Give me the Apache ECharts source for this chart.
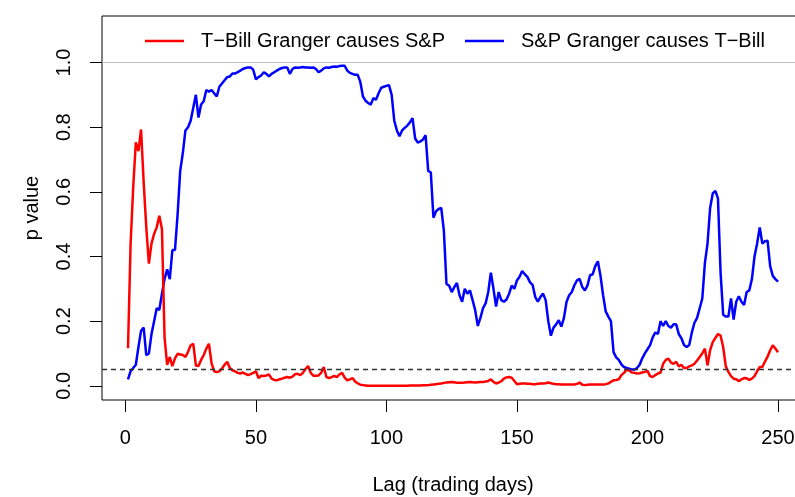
<!DOCTYPE html>
<html>
<head>
<meta charset="utf-8">
<script src="https://cdn.jsdelivr.net/npm/echarts@6/dist/echarts.min.js"></script>
<style>
  html, body { margin: 0; padding: 0; background: #fff; }
  #chart { width: 795px; height: 497px; }
</style>
</head>
<body>
<div id="chart"></div>
<script>
// p values, lag 1..250
var tbillCausesSP = [
  0.116, 0.44, 0.615, 0.753, 0.726, 0.793, 0.63, 0.49, 0.378, 0.44,
  0.47, 0.49, 0.526, 0.485, 0.15, 0.065, 0.089, 0.061, 0.085, 0.099,
  0.097, 0.095, 0.089, 0.105, 0.125, 0.13, 0.063, 0.061, 0.08, 0.095,
  0.115, 0.13, 0.07, 0.045, 0.042, 0.045, 0.053, 0.065, 0.074, 0.055,
  0.048, 0.045, 0.04, 0.038, 0.041, 0.037, 0.033, 0.036, 0.04, 0.045,
  0.024, 0.031, 0.03, 0.032, 0.035, 0.022, 0.018, 0.017, 0.02, 0.022,
  0.025, 0.027, 0.025, 0.028, 0.036, 0.037, 0.033, 0.04, 0.052, 0.061,
  0.04, 0.031, 0.031, 0.032, 0.04, 0.058, 0.027, 0.024, 0.027, 0.031,
  0.027, 0.035, 0.04, 0.025, 0.017, 0.02, 0.024, 0.013, 0.008, 0.003,
  0.002, 0.001, 0.0, 0.0, 0.0, 0.0, 0.0, 0.0, 0.0, 0.0,
  0.0, 0.0, 0.0, 0.0, 0.0, 0.0, 0.0, 0.0, 0.0005, 0.001,
  0.001, 0.001, 0.001, 0.0015, 0.002, 0.002, 0.003, 0.004, 0.005, 0.006,
  0.007, 0.009, 0.01, 0.011, 0.012, 0.011, 0.009, 0.009, 0.009, 0.01,
  0.011, 0.012, 0.011, 0.01, 0.011, 0.012, 0.012, 0.013, 0.015, 0.02,
  0.012, 0.007, 0.01, 0.014, 0.022, 0.026, 0.027, 0.025, 0.015, 0.005,
  0.006, 0.007, 0.007, 0.006, 0.006, 0.005, 0.005, 0.006, 0.007, 0.007,
  0.008, 0.01, 0.008, 0.006, 0.005, 0.005, 0.004, 0.004, 0.004, 0.004,
  0.004, 0.004, 0.006, 0.01, 0.003, 0.002, 0.003, 0.004, 0.004, 0.004,
  0.004, 0.004, 0.004, 0.005, 0.007, 0.012, 0.017, 0.018, 0.02, 0.033,
  0.04, 0.05, 0.047, 0.041, 0.04, 0.038, 0.039, 0.041, 0.043, 0.046,
  0.03, 0.027, 0.033, 0.038, 0.041, 0.068, 0.08, 0.084, 0.072, 0.068,
  0.074, 0.06, 0.065, 0.055, 0.055, 0.06, 0.063, 0.068, 0.078, 0.089,
  0.1, 0.115, 0.063, 0.11, 0.135, 0.148, 0.16, 0.155, 0.12, 0.06,
  0.043, 0.03, 0.022, 0.02, 0.014, 0.02, 0.024, 0.023, 0.018, 0.022,
  0.03, 0.045, 0.058, 0.058, 0.075, 0.09, 0.11, 0.125, 0.115, 0.104
];
var spCausesTbill = [
  0.02, 0.045, 0.055, 0.065, 0.12, 0.17, 0.18, 0.095, 0.1, 0.16,
  0.2, 0.24, 0.235, 0.285, 0.33, 0.36, 0.33, 0.42, 0.42, 0.53,
  0.665, 0.72, 0.79, 0.8, 0.82, 0.86, 0.9, 0.83, 0.87, 0.88,
  0.915, 0.91, 0.915, 0.905, 0.895, 0.925, 0.935, 0.945, 0.955, 0.957,
  0.966, 0.966, 0.97, 0.975, 0.98, 0.983, 0.985, 0.985, 0.977, 0.948,
  0.955, 0.96, 0.97, 0.965, 0.957, 0.965, 0.97, 0.975, 0.98, 0.983,
  0.985, 0.985, 0.965, 0.98, 0.985, 0.984, 0.985, 0.986, 0.985, 0.985,
  0.984, 0.985, 0.98, 0.97, 0.975, 0.982, 0.985, 0.984, 0.986, 0.988,
  0.987, 0.989, 0.99, 0.99, 0.975, 0.968, 0.965, 0.962, 0.962, 0.94,
  0.895, 0.882, 0.875, 0.87, 0.89, 0.885, 0.905, 0.922, 0.925, 0.928,
  0.93, 0.9, 0.82, 0.79, 0.772, 0.79, 0.798, 0.805, 0.815, 0.828,
  0.765, 0.752, 0.756, 0.762, 0.775, 0.665, 0.66, 0.52, 0.54, 0.547,
  0.55, 0.48, 0.315, 0.31, 0.29, 0.305, 0.318, 0.28, 0.26, 0.3,
  0.285, 0.295, 0.265, 0.234, 0.185, 0.21, 0.24, 0.255, 0.29, 0.35,
  0.3, 0.245, 0.29, 0.265, 0.26, 0.267, 0.285, 0.31, 0.3, 0.326,
  0.337, 0.355, 0.345, 0.337, 0.32, 0.312, 0.275, 0.26, 0.275, 0.285,
  0.265, 0.2, 0.155, 0.18, 0.19, 0.203, 0.183, 0.21, 0.26, 0.28,
  0.29, 0.311, 0.326, 0.331, 0.306, 0.295, 0.31, 0.342, 0.345, 0.37,
  0.385, 0.34, 0.28, 0.23, 0.214, 0.2, 0.104, 0.088, 0.08, 0.066,
  0.058, 0.055, 0.053, 0.05, 0.05, 0.055, 0.065, 0.085, 0.1, 0.113,
  0.126, 0.15, 0.165, 0.16, 0.2, 0.185, 0.2, 0.185, 0.18, 0.19,
  0.19, 0.16, 0.147, 0.126, 0.12, 0.126, 0.165, 0.195, 0.21, 0.24,
  0.27, 0.38, 0.44, 0.55, 0.595, 0.603, 0.58, 0.35, 0.22, 0.214,
  0.214, 0.27, 0.205, 0.26, 0.277, 0.26, 0.25, 0.29, 0.295, 0.33,
  0.4, 0.44, 0.49, 0.44, 0.447, 0.449, 0.37, 0.34, 0.33, 0.322
];
var lagTicks = [0, 50, 100, 150, 200, 250];
var pTicks = [0, 0.2, 0.4, 0.6, 0.8, 1.0];
var seriesNames = ['T\u2212Bill Granger causes S&P', 'S&P Granger causes T\u2212Bill'];
var pCutoff = 0.05;

function pairs(vals) {
    var out = [];
    for (var i = 0; i < vals.length; i++) {
        out.push([i + 1, vals[i]]);
    }
    return out;
}

var font = 'Liberation Sans, Arial, sans-serif';
var chart = echarts.init(document.getElementById('chart'), null, {renderer: 'canvas'});
// legend entry, one per series so each can sit where R put it
function legendAt(name, left) {
    return {
        data: [name], left: left, top: 31, padding: 0,
        icon: 'rect', itemWidth: 39, itemHeight: 2.5,
        textStyle: {fontSize: 20, color: '#000', fontFamily: font, padding: [0, 0, 0, 12]}
    };
}
var option = {
    animation: false,
    backgroundColor: '#fff',
    textStyle: {fontFamily: font},
    grid: {
        left: 102, top: 16, width: 702, height: 384,
        outerBoundsMode: 'none',
        show: true, borderColor: '#000', borderWidth: 1, backgroundColor: 'transparent'
    },
    legend: [legendAt(seriesNames[0], 145), legendAt(seriesNames[1], 465)],
    xAxis: {
        type: 'value', min: -8.96, max: 259.96,
        name: 'Lag (trading days)', nameLocation: 'middle', nameGap: 75,
        nameTextStyle: {fontSize: 20, color: '#000', fontFamily: font},
        axisLine: {show: false, onZero: false},
        axisTick: {show: true, customValues: lagTicks, length: 12, lineStyle: {color: '#000', width: 1}},
        axisLabel: {customValues: lagTicks, margin: 28, fontSize: 20, color: '#000', fontFamily: font},
        splitLine: {show: false}
    },
    yAxis: {
        type: 'value', min: -0.044, max: 1.144,
        name: 'p value', nameLocation: 'middle', nameGap: 60, nameRotate: 90,
        nameTextStyle: {fontSize: 20, color: '#000', fontFamily: font},
        axisLine: {show: false, onZero: false},
        axisTick: {show: true, customValues: pTicks, length: 12, lineStyle: {color: '#000', width: 1}},
        axisLabel: {
            customValues: pTicks, margin: 28, rotate: 90, fontSize: 20, color: '#000', fontFamily: font,
            formatter: function (v) { return v.toFixed(1); }
        },
        splitLine: {show: false}
    },
    series: [
        {
            name: seriesNames[1], type: 'line', data: pairs(spCausesTbill),
            symbol: 'none', color: '#0000ff', lineStyle: {color: '#0000ff', width: 2.5},
            markLine: {
                silent: true, symbol: ['none', 'none'], label: {show: false},
                data: [
                    {yAxis: 1, lineStyle: {color: '#bebebe', type: 'solid', width: 1.2}},
                    {yAxis: pCutoff, lineStyle: {color: '#333', type: [5, 4], width: 1.3}}
                ]
            }
        },
        {
            name: seriesNames[0], type: 'line', data: pairs(tbillCausesSP),
            symbol: 'none', color: '#ff0000', lineStyle: {color: '#ff0000', width: 2.5}
        }
    ]
};
chart.setOption(option);
</script>
</body>
</html>
